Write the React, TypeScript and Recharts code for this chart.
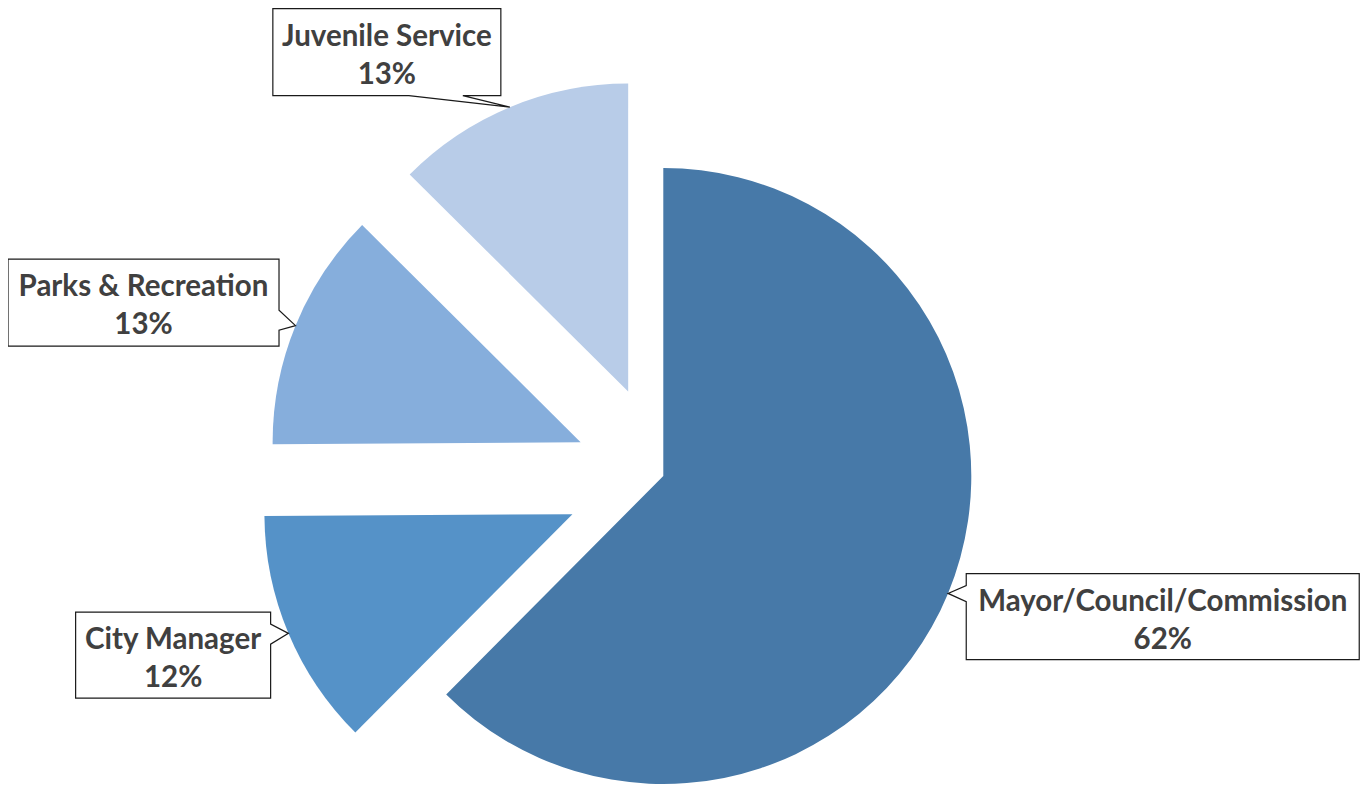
import React from 'react';
import { PieChart, Pie, Cell, Sector } from 'recharts';

// departments, clockwise from 12 o'clock
const departments = ['Mayor/Council/Commission', 'City Manager', 'Parks & Recreation', 'Juvenile Service'];
const shares = [62.45, 12.45, 12.55, 12.55];

const COLORS = ['#4779A8', '#5592C8', '#86AEDC', '#B8CCE8'];
// how far each slice is pulled out, as a fraction of the radius
const EXPLODE = [0, 0.32, 0.29, 0.297];

// callout boxes: centre offset from the pointer tip, size, side the pointer leaves from
const CALLOUTS = [
  { dx: 214.7, dy: 23.2, w: 393, h: 86, side: 'left', b0: 12, b1: 28 },
  { dx: -115.3, dy: 21.8, w: 195, h: 86, side: 'right', b0: 12, b1: 32 },
  { dx: -152, dy: -23, w: 271, h: 87, side: 'right', b0: 51, b1: 71 },
  { dx: -123, dy: -55, w: 228, h: 87, side: 'bottom', b0: 136, b1: 190 },
];

const chartData = departments.map((name, i) => ({ name, value: shares[i] }));

const RAD = Math.PI / 180;
const FONT = 'Lato, "Open Sans", sans-serif';

const offsetFor = (index: number, midAngle: number, r: number) => {
  const d = EXPLODE[index] * r;
  return { x: Math.cos(-midAngle * RAD) * d, y: Math.sin(-midAngle * RAD) * d };
};

const ExplodedSector = (props: any) => {
  const { cx, cy, midAngle, outerRadius, index } = props;
  const off = offsetFor(index, midAngle, outerRadius);
  return <Sector {...props} cx={cx + off.x} cy={cy + off.y} />;
};

const renderCallout = (props: any) => {
  const { cx, cy, midAngle, outerRadius, index, name, percent } = props;
  const off = offsetFor(index, midAngle, outerRadius);
  const tx = cx + off.x + Math.cos(-midAngle * RAD) * outerRadius;
  const ty = cy + off.y + Math.sin(-midAngle * RAD) * outerRadius;
  const c = CALLOUTS[index];
  const x0 = tx + c.dx - c.w / 2;
  const y0 = ty + c.dy - c.h / 2;
  const x1 = x0 + c.w;
  const y1 = y0 + c.h;
  let d = '';
  if (c.side === 'left') {
    d = `M${x0},${y0} L${x1},${y0} L${x1},${y1} L${x0},${y1} L${x0},${y0 + c.b1} L${tx},${ty} L${x0},${y0 + c.b0} Z`;
  } else if (c.side === 'right') {
    d = `M${x0},${y0} L${x1},${y0} L${x1},${y0 + c.b0} L${tx},${ty} L${x1},${y0 + c.b1} L${x1},${y1} L${x0},${y1} Z`;
  } else {
    d = `M${x0},${y0} L${x1},${y0} L${x1},${y1} L${x0 + c.b1},${y1} L${tx},${ty} L${x0 + c.b0},${y1} L${x0},${y1} Z`;
  }
  const mid = (x0 + x1) / 2;
  return (
    <g key={`callout-${index}`}>
      <path d={d} fill="#ffffff" stroke="#1a1a1a" strokeWidth={1.2} />
      <text x={mid} y={y0 + 37} textAnchor="middle" fontFamily={FONT} fontWeight={700} fontSize={29.5} fill="#404040">
        {name}
      </text>
      <text x={mid} y={y0 + 75} textAnchor="middle" fontFamily={FONT} fontWeight={700} fontSize={29.5} fill="#404040">
        {`${Math.round(percent * 100)}%`}
      </text>
    </g>
  );
};

const App: React.FC = () => {
  return (
    <div style={{ width: 1354, height: 778 }}>
      <PieChart width={1354} height={778} margin={{ top: 0, right: 0, bottom: 0, left: 0 }}>
        <Pie
          data={chartData}
          dataKey="value"
          nameKey="name"
          cx={655.3}
          cy={468}
          outerRadius={308}
          startAngle={90}
          endAngle={-270}
          stroke="none"
          shape={ExplodedSector}
          label={renderCallout}
          labelLine={false}
          isAnimationActive={false}
        >
          {chartData.map((entry, index) => (
            <Cell key={`cell-${index}`} fill={COLORS[index % COLORS.length]} />
          ))}
        </Pie>
      </PieChart>
    </div>
  );
};

export default App;
